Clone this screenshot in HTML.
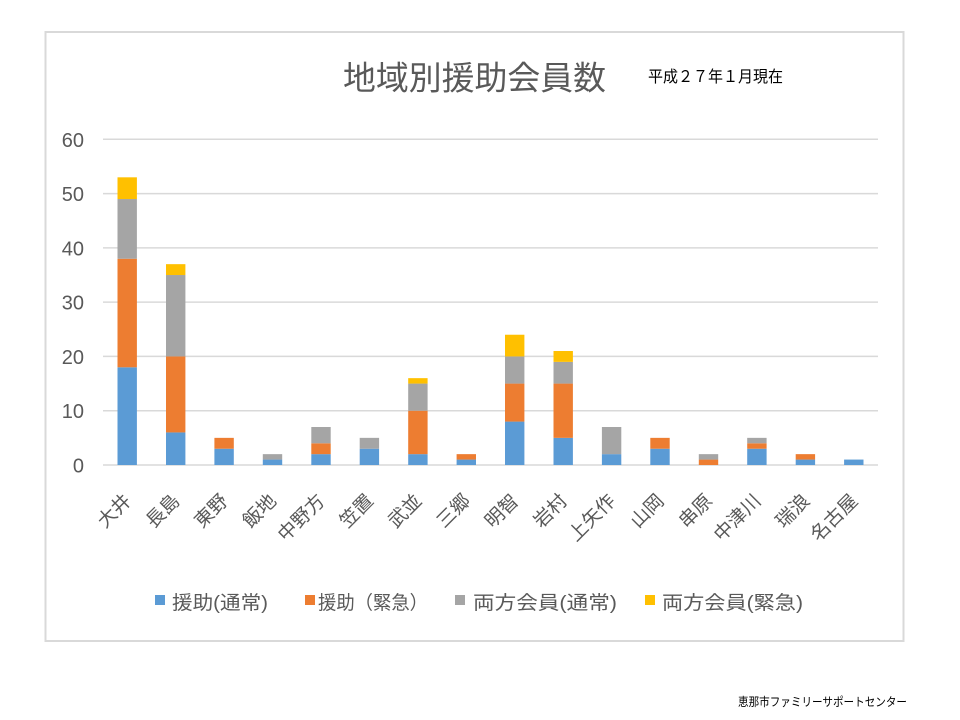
<!DOCTYPE html>
<html>
<head>
<meta charset="utf-8">
<style>
html,body{margin:0;padding:0;background:#fff;}
body{width:960px;height:720px;overflow:hidden;}
svg{display:block;}
text{font-family:"Liberation Sans","Noto Sans CJK JP",sans-serif;}
</style>
</head>
<body>
<svg width="960" height="720" viewBox="0 0 960 720" xmlns="http://www.w3.org/2000/svg">
  <rect x="0" y="0" width="960" height="720" fill="#fff"/>
  <!-- chart border -->
  <rect x="45.5" y="32" width="858" height="609" fill="#fff" stroke="#d9d9d9" stroke-width="2"/>

  <!-- title -->
  <text x="343" y="89.5" font-size="33" fill="#595959" textLength="263" lengthAdjust="spacingAndGlyphs">地域別援助会員数</text>
  <text x="648" y="82" font-size="16" fill="#000" textLength="135" lengthAdjust="spacingAndGlyphs">平成２７年１月現在</text>

  <!-- gridlines -->
  <g stroke="#d9d9d9" stroke-width="1.5">
    <line x1="103" y1="139.3" x2="878" y2="139.3"/>
    <line x1="103" y1="193.6" x2="878" y2="193.6"/>
    <line x1="103" y1="247.9" x2="878" y2="247.9"/>
    <line x1="103" y1="302.1" x2="878" y2="302.1"/>
    <line x1="103" y1="356.4" x2="878" y2="356.4"/>
    <line x1="103" y1="410.7" x2="878" y2="410.7"/>
    <line x1="103" y1="465" x2="878" y2="465"/>
  </g>

  <!-- y tick labels -->
  <g font-size="20" fill="#595959" text-anchor="end">
    <text x="84" y="146.8">60</text>
    <text x="84" y="201.1">50</text>
    <text x="84" y="255.4">40</text>
    <text x="84" y="309.6">30</text>
    <text x="84" y="363.9">20</text>
    <text x="84" y="418.2">10</text>
    <text x="84" y="472.5">0</text>
  </g>

  <!-- bars -->
  <!-- 大井 -->
  <rect x="117.5" y="367.3" width="19.4" height="97.7" fill="#5B9BD5"/>
  <rect x="117.5" y="258.74" width="19.4" height="108.56" fill="#ED7D31"/>
  <rect x="117.5" y="199.03" width="19.4" height="59.71" fill="#A5A5A5"/>
  <rect x="117.5" y="177.32" width="19.4" height="21.71" fill="#FFC000"/>
  <!-- 長島 -->
  <rect x="166.0" y="432.43" width="19.4" height="32.57" fill="#5B9BD5"/>
  <rect x="166.0" y="356.44" width="19.4" height="75.99" fill="#ED7D31"/>
  <rect x="166.0" y="275.02" width="19.4" height="81.42" fill="#A5A5A5"/>
  <rect x="166.0" y="264.16" width="19.4" height="10.86" fill="#FFC000"/>
  <!-- 東野 -->
  <rect x="214.4" y="448.72" width="19.4" height="16.28" fill="#5B9BD5"/>
  <rect x="214.4" y="437.86" width="19.4" height="10.86" fill="#ED7D31"/>
  <!-- 飯地 -->
  <rect x="262.8" y="459.57" width="19.4" height="5.43" fill="#5B9BD5"/>
  <rect x="262.8" y="454.14" width="19.4" height="5.43" fill="#A5A5A5"/>
  <!-- 中野方 -->
  <rect x="311.3" y="454.14" width="19.4" height="10.86" fill="#5B9BD5"/>
  <rect x="311.3" y="443.29" width="19.4" height="10.86" fill="#ED7D31"/>
  <rect x="311.3" y="427.0" width="19.4" height="16.29" fill="#A5A5A5"/>
  <!-- 笠置 -->
  <rect x="359.7" y="448.72" width="19.4" height="16.28" fill="#5B9BD5"/>
  <rect x="359.7" y="437.86" width="19.4" height="10.86" fill="#A5A5A5"/>
  <!-- 武並 -->
  <rect x="408.2" y="454.14" width="19.4" height="10.86" fill="#5B9BD5"/>
  <rect x="408.2" y="410.72" width="19.4" height="43.42" fill="#ED7D31"/>
  <rect x="408.2" y="383.58" width="19.4" height="27.14" fill="#A5A5A5"/>
  <rect x="408.2" y="378.15" width="19.4" height="5.43" fill="#FFC000"/>
  <!-- 三郷 -->
  <rect x="456.6" y="459.57" width="19.4" height="5.43" fill="#5B9BD5"/>
  <rect x="456.6" y="454.14" width="19.4" height="5.43" fill="#ED7D31"/>
  <!-- 明智 -->
  <rect x="505.0" y="421.58" width="19.4" height="43.42" fill="#5B9BD5"/>
  <rect x="505.0" y="383.58" width="19.4" height="38.0" fill="#ED7D31"/>
  <rect x="505.0" y="356.44" width="19.4" height="27.14" fill="#A5A5A5"/>
  <rect x="505.0" y="334.73" width="19.4" height="21.71" fill="#FFC000"/>
  <!-- 岩村 -->
  <rect x="553.5" y="437.86" width="19.4" height="27.14" fill="#5B9BD5"/>
  <rect x="553.5" y="383.58" width="19.4" height="54.28" fill="#ED7D31"/>
  <rect x="553.5" y="361.87" width="19.4" height="21.71" fill="#A5A5A5"/>
  <rect x="553.5" y="351.01" width="19.4" height="10.86" fill="#FFC000"/>
  <!-- 上矢作 -->
  <rect x="601.9" y="454.14" width="19.4" height="10.86" fill="#5B9BD5"/>
  <rect x="601.9" y="427.0" width="19.4" height="27.14" fill="#A5A5A5"/>
  <!-- 山岡 -->
  <rect x="650.3" y="448.72" width="19.4" height="16.28" fill="#5B9BD5"/>
  <rect x="650.3" y="437.86" width="19.4" height="10.86" fill="#ED7D31"/>
  <!-- 串原 -->
  <rect x="698.8" y="459.57" width="19.4" height="5.43" fill="#ED7D31"/>
  <rect x="698.8" y="454.14" width="19.4" height="5.43" fill="#A5A5A5"/>
  <!-- 中津川 -->
  <rect x="747.2" y="448.72" width="19.4" height="16.28" fill="#5B9BD5"/>
  <rect x="747.2" y="443.29" width="19.4" height="5.43" fill="#ED7D31"/>
  <rect x="747.2" y="437.86" width="19.4" height="5.43" fill="#A5A5A5"/>
  <!-- 瑞浪 -->
  <rect x="795.7" y="459.57" width="19.4" height="5.43" fill="#5B9BD5"/>
  <rect x="795.7" y="454.14" width="19.4" height="5.43" fill="#ED7D31"/>
  <!-- 名古屋 -->
  <rect x="844.1" y="459.57" width="19.4" height="5.43" fill="#5B9BD5"/>

  <!-- x labels -->
  <g font-size="19" fill="#595959" text-anchor="end">
    <text x="132.2" y="502" transform="rotate(-45 132.2 502)">大井</text>
    <text x="180.7" y="502" transform="rotate(-45 180.7 502)">長島</text>
    <text x="229.1" y="502" transform="rotate(-45 229.1 502)">東野</text>
    <text x="277.5" y="502" transform="rotate(-45 277.5 502)">飯地</text>
    <text x="326.0" y="502" transform="rotate(-45 326.0 502)">中野方</text>
    <text x="374.4" y="502" transform="rotate(-45 374.4 502)">笠置</text>
    <text x="422.9" y="502" transform="rotate(-45 422.9 502)">武並</text>
    <text x="471.3" y="502" transform="rotate(-45 471.3 502)">三郷</text>
    <text x="519.7" y="502" transform="rotate(-45 519.7 502)">明智</text>
    <text x="568.2" y="502" transform="rotate(-45 568.2 502)">岩村</text>
    <text x="616.6" y="502" transform="rotate(-45 616.6 502)">上矢作</text>
    <text x="665.0" y="502" transform="rotate(-45 665.0 502)">山岡</text>
    <text x="713.5" y="502" transform="rotate(-45 713.5 502)">串原</text>
    <text x="761.9" y="502" transform="rotate(-45 761.9 502)">中津川</text>
    <text x="810.4" y="502" transform="rotate(-45 810.4 502)">瑞浪</text>
    <text x="858.8" y="502" transform="rotate(-45 858.8 502)">名古屋</text>
  </g>

  <!-- legend -->
  <rect x="155" y="595" width="10" height="10" fill="#5B9BD5"/>
  <text x="172" y="609" font-size="19" fill="#595959" textLength="96" lengthAdjust="spacingAndGlyphs">援助(通常)</text>
  <rect x="305" y="595" width="10" height="10" fill="#ED7D31"/>
  <text x="318" y="609" font-size="19" fill="#595959" textLength="110" lengthAdjust="spacingAndGlyphs">援助（緊急）</text>
  <rect x="455" y="595" width="10" height="10" fill="#A5A5A5"/>
  <text x="473" y="609" font-size="19" fill="#595959" textLength="144" lengthAdjust="spacingAndGlyphs">両方会員(通常)</text>
  <rect x="645" y="595" width="10" height="10" fill="#FFC000"/>
  <text x="662" y="609" font-size="19" fill="#595959" textLength="141" lengthAdjust="spacingAndGlyphs">両方会員(緊急)</text>

  <!-- footer -->
  <text x="738" y="706" font-size="12" fill="#000" textLength="169" lengthAdjust="spacingAndGlyphs">恵那市ファミリーサポートセンター</text>
</svg>
</body>
</html>
